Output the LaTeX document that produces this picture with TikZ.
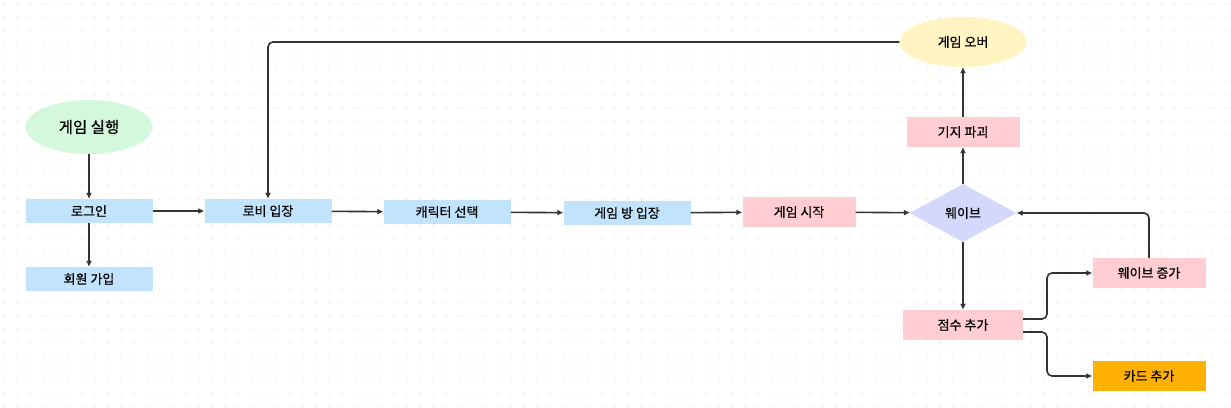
\documentclass[tikz,border=0pt]{standalone}
\usepackage{fontspec}
\setmainfont{Noto Sans CJK KR}[FakeBold=0.6]
\usetikzlibrary{arrows.meta,shapes.geometric}
\definecolor{startgreen}{HTML}{D3F8DC}
\definecolor{stepblue}{HTML}{C2E3FC}
\definecolor{steppink}{HTML}{FFCDD2}
\definecolor{wavelilac}{HTML}{D4D8FC}
\definecolor{overyellow}{HTML}{FFF4C2}
\definecolor{cardorange}{HTML}{FFB000}
\definecolor{linegray}{HTML}{333333}
\begin{document}
\begin{tikzpicture}[x=1pt, y=-1pt, font=\fontsize{13}{15}\selectfont,
  flow/.style={-{Latex[length=6pt,width=6pt]}, line width=1.6pt, draw=linegray, rounded corners=5pt}]
\tikzstyle{bluebox}=[rectangle, fill=stepblue, minimum width=127pt, minimum height=24pt, inner sep=0pt]
\tikzstyle{pinkbox}=[rectangle, fill=steppink, minimum width=113pt, minimum height=30pt, inner sep=0pt]
\tikzstyle{endcap}=[ellipse, minimum width=127pt, minimum height=50pt, inner sep=0pt]
\useasboundingbox (0,0) rectangle (1231,407);
\fill[white] (0,0) rectangle (1231,407);
% dotted background
\foreach \i in {0,...,94} {
  \foreach \j in {0,...,31} {
    \fill[gray!22] (4+13*\i,4+13*\j) circle (0.8pt);
  }
}
\node[endcap, fill=startgreen, minimum height=54pt, font=\fontsize{15.5}{18}\selectfont] (run) at (89,127) {게임 실행};
\node[bluebox] (login) at (89,211) {로그인};
\node[bluebox] (join) at (89,279) {회원 가입};
\node[bluebox] (lobby) at (268,211) {로비 입장};
\node[bluebox] (chara) at (447,212) {캐릭터 선택};
\node[bluebox] (room) at (627,213) {게임 방 입장};
\node[pinkbox] (start) at (799,212) {게임 시작};
\node[diamond, fill=wavelilac, minimum width=107pt, minimum height=58pt, inner sep=0pt] (wave) at (963,213) {웨이브};
\node[pinkbox] (base) at (963,132) {기지 파괴};
\node[endcap, fill=overyellow] (over) at (963,42) {게임 오버};
\node[pinkbox, minimum width=120pt] (score) at (963,325) {점수 추가};
\node[pinkbox] (waveup) at (1149,273) {웨이브 증가};
\node[pinkbox, fill=cardorange] (card) at (1149,376) {카드 추가};

\draw[flow] (run) -- (login);
\draw[flow] (login) -- (join);
\draw[flow] (login) -- (lobby);
\draw[flow] (lobby) -- (chara);
\draw[flow] (chara) -- (room);
\draw[flow] (room) -- (start);
\draw[flow] (start) -- (wave);
\draw[flow] (wave) -- (base);
\draw[flow] (base) -- (over);
\draw[flow] (over.west) -- (268,42) -- (lobby.north);
\draw[flow] (wave) -- (score);
\draw[flow] ([yshift=6pt]score.east) -- (1047,319) -- (1047,273) -- (waveup.west);
\draw[flow] ([yshift=-7pt]score.east) -- (1047,332) -- (1047,376) -- (card.west);
\draw[flow] (waveup.north) -- (1149,213) -- (wave.east);
\end{tikzpicture}
\end{document}
